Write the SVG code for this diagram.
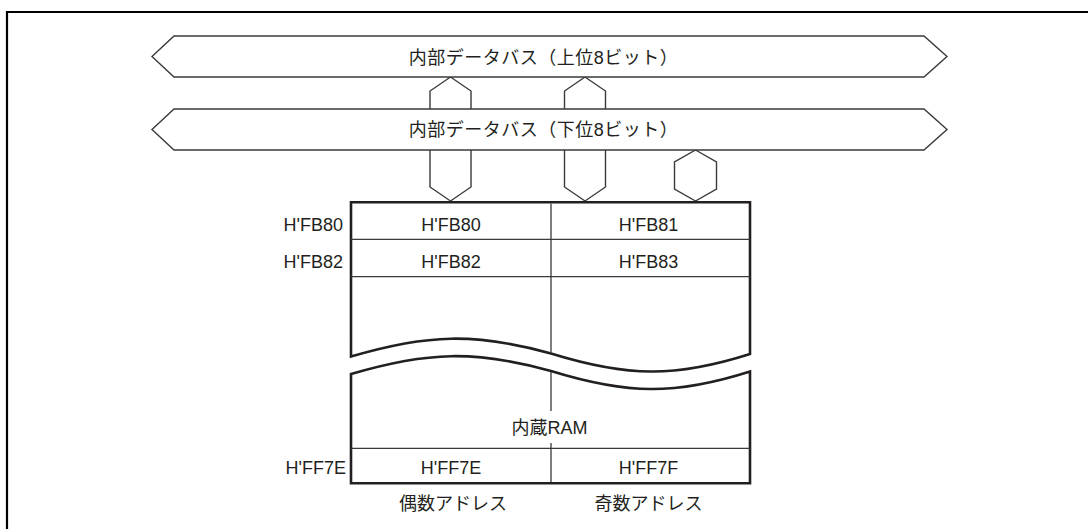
<svg xmlns="http://www.w3.org/2000/svg" width="1088" height="529" viewBox="0 0 1088 529">
<style>
  text { font-family: "Liberation Sans", "Noto Sans CJK JP", sans-serif; font-size: 18px; fill: #231f20; }
  .mid { text-anchor: middle; }
  .end { text-anchor: end; }
  .wide { letter-spacing: 0.5px; }
  .bus { fill: #fff; stroke: #3a3a3a; stroke-width: 1.4; stroke-linejoin: miter; }
  .hex { fill: #fff; stroke: #3a3a3a; stroke-width: 1.4; }
  .thick { fill: #fff; stroke: #231f20; stroke-width: 2.6; stroke-linejoin: miter; }
  .thin { fill: none; stroke: #3a3a3a; stroke-width: 1.3; }
  .frame { fill: none; stroke: #000; stroke-width: 2.2; }
</style>
<rect x="0" y="0" width="1088" height="529" fill="#fff"/>
<path class="frame" d="M7,529 V12 H1088"/>

<g id="connectors">
  <path class="hex" d="M430,109 V91 L450.5,77 L471,91 V109"/>
  <path class="hex" d="M564.5,109 V91 L585,77 L605.5,91 V109"/>
  <path class="hex" d="M430,150 V187 L450.5,201 L471,187 V150"/>
  <path class="hex" d="M564.5,150 V187 L585,201 L605.5,187 V150"/>
  <path class="hex" d="M695.5,150 L716.5,162 V189 L695.5,201 L674.5,189 V162 Z"/>
</g>

<g id="bus-upper">
  <polygon class="bus" points="152,56.5 174,36 924,36 947,56.5 924,77 174,77"/>
  <text class="mid wide" x="543.5" y="63.5">内部データバス（上位8ビット）</text>
</g>

<g id="bus-lower">
  <polygon class="bus" points="152,129.5 174,109 924,109 947,129.5 924,150 174,150"/>
  <text class="mid wide" x="543.5" y="136">内部データバス（下位8ビット）</text>
</g>

<g id="ram">
  <path class="thick" d="M351,356.5 V202.3 H750 V354 C675,378 627,377 551,353.5 C475,332.5 427,334 351,356.5 Z"/>
  <path class="thick" d="M351,374 C427,351.5 475,350 551,371 C627,394.5 675,395.5 750,371.5 V483.3 H351 Z"/>
  <line class="thin" x1="351" y1="239.3" x2="750" y2="239.3"/>
  <line class="thin" x1="351" y1="276.7" x2="750" y2="276.7"/>
  <line class="thin" x1="351" y1="448.3" x2="750" y2="448.3"/>
  <line class="thin" x1="551" y1="203.5" x2="551" y2="352.5"/>
  <line class="thin" x1="551" y1="372" x2="551" y2="411"/>
  <line class="thin" x1="551" y1="443" x2="551" y2="482"/>
  <text class="mid" x="451" y="231">H'FB80</text>
  <text class="mid" x="648.5" y="231">H'FB81</text>
  <text class="mid" x="451" y="267.7">H'FB82</text>
  <text class="mid" x="648.5" y="267.7">H'FB83</text>
  <text class="mid" x="549.5" y="433.5">内蔵RAM</text>
  <text class="mid" x="451" y="473.5">H'FF7E</text>
  <text class="mid" x="648.5" y="473.5">H'FF7F</text>
</g>

<g id="address-labels">
  <text class="end" x="343" y="231">H'FB80</text>
  <text class="end" x="343" y="267.7">H'FB82</text>
  <text class="end" x="346" y="473.5">H'FF7E</text>
  <text class="mid" x="453" y="510">偶数アドレス</text>
  <text class="mid" x="648.5" y="510">奇数アドレス</text>
</g>
</svg>
